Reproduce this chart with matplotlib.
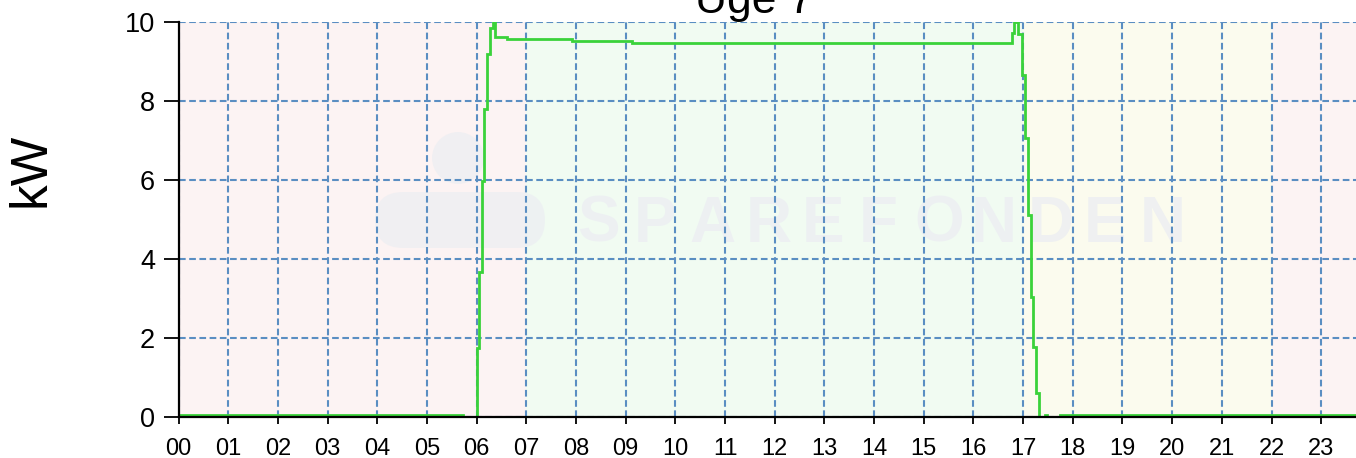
import matplotlib
matplotlib.use("Agg")
import matplotlib.pyplot as plt
from matplotlib.patches import FancyBboxPatch, Circle

# ---- data (hour of day, kW) : step changes ----
hours = [0.00, 5.72, 6.00, 6.05, 6.10, 6.15, 6.20, 6.27, 6.32, 6.38, 6.62,
         7.92, 9.12, 16.77, 16.82, 16.90, 16.97, 17.03, 17.09, 17.15, 17.20,
         17.25, 17.32, 17.44, 17.48, 17.74, 23.70]
kw = [0.05, 0.00, 1.75, 3.67, 5.97, 7.80, 9.19, 9.85, 10.00, 9.63, 9.57,
      9.52, 9.46, 9.72, 10.00, 9.70, 8.66, 7.06, 5.11, 3.04, 1.77,
      0.60, 0.00, 0.05, 0.00, 0.05, 0.05]

tick_hours = list(range(24))
tick_labels = [f"{h:02d}" for h in tick_hours]
y_ticks = [0, 2, 4, 6, 8, 10]

# background periods (start, end, colour)
periods = [(0, 7, "#fcf3f3"), (7, 17, "#f1fbf2"), (17, 22, "#fbfbee"), (22, 24, "#fcf3f3")]

title = "Uge 7"
ylabel = "kW"
watermark = "SPAREFONDEN"

W, H = 1356, 458
fig = plt.figure(figsize=(W / 100, H / 100), dpi=100)
fig.patch.set_facecolor("white")

x0 = 178.5
ax = fig.add_axes([x0 / W, 41 / H, (W - x0) / W, 395 / H])
ax.set_xlim(0, 23.7)
ax.set_ylim(0, 10)

for s, e, c in periods:
    ax.axvspan(s, e, color=c, zorder=0, lw=0)

# faint watermark logo (pixel coordinates)
wm_col = "#eceef2"
circ = Circle((458, H - 158), 26, transform=None, color=wm_col, zorder=1, alpha=0.7, lw=0)
ax.add_artist(circ)
pill = FancyBboxPatch((375, H - 248), 170, 56, boxstyle="round,pad=0,rounding_size=28",
                      transform=None, color=wm_col, zorder=1, alpha=0.7, lw=0)
ax.add_artist(pill)
xs = [577 + i * (1188 - 577 - 48) / (len(watermark) - 1) for i in range(len(watermark))]
for xp, ch in zip(xs, watermark):
    ax.text(xp, H - 242, ch, transform=None, fontsize=46, color=wm_col, alpha=0.8,
            family="Liberation Sans", weight="bold", ha="left", va="baseline", zorder=1)

ax.set_xticks(tick_hours)
ax.set_xticklabels(tick_labels)
ax.set_yticks(y_ticks)

ax.grid(True, color="#5a8ec2", lw=1.5, dashes=(3.2, 1.7), zorder=2)
ax.set_axisbelow(False)

ax.plot(hours, kw, drawstyle="steps-post", color="#3ad23a", lw=2.0, zorder=3,
        solid_joinstyle="miter")

for side in ["top", "right"]:
    ax.spines[side].set_visible(False)
for side in ["left", "bottom"]:
    ax.spines[side].set_color("black")
    ax.spines[side].set_linewidth(1.6)
    ax.spines[side].set_zorder(4)

ax.tick_params(axis="x", length=5, width=1.3, pad=10, labelsize=17, colors="black")
ax.tick_params(axis="y", length=11, width=1.3, pad=6, labelsize=19.5, colors="black")
for lab in ax.get_xticklabels() + ax.get_yticklabels():
    lab.set_family("Liberation Sans")

fig.text(31 / W, 1 - 170 / H, ylabel, rotation=90, fontsize=37, family="Liberation Sans",
         ha="center", va="center")
fig.text(754 / W, 1 - 13 / H, title, fontsize=32, family="Liberation Sans",
         ha="center", va="baseline")

fig.savefig("out.png", dpi=100)
